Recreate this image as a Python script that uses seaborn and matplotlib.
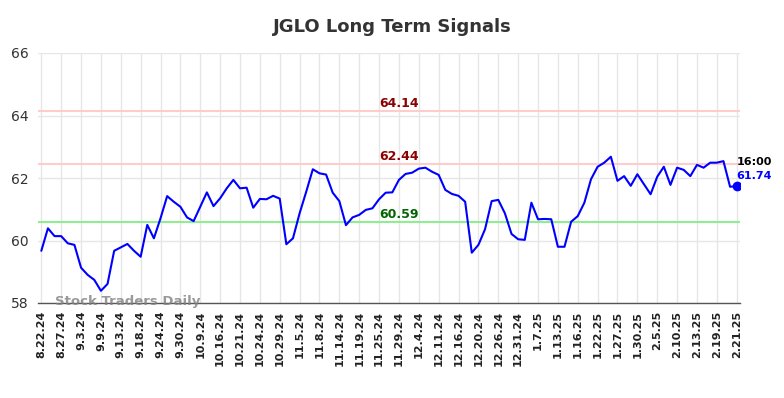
import numpy as np
import pandas as pd
import seaborn as sns
import matplotlib
matplotlib.use('Agg')
import matplotlib.pyplot as plt

# tick labels (one every 3 points)
tick_labels = ['8.22.24', '8.27.24', '9.3.24', '9.9.24', '9.13.24', '9.18.24', '9.24.24',
               '9.30.24', '10.9.24', '10.16.24', '10.21.24', '10.24.24', '10.29.24',
               '11.5.24', '11.8.24', '11.14.24', '11.19.24', '11.25.24', '11.29.24',
               '12.4.24', '12.11.24', '12.16.24', '12.20.24', '12.26.24', '12.31.24',
               '1.7.25', '1.13.25', '1.16.25', '1.22.25', '1.27.25', '1.30.25',
               '2.5.25', '2.10.25', '2.13.25', '2.19.25', '2.21.25']

# closing prices
prices = [59.67, 60.39, 60.14, 60.14, 59.91, 59.86, 59.13, 58.90, 58.74, 58.39,
          58.61, 59.67, 59.78, 59.89, 59.67, 59.48, 60.50, 60.07, 60.71, 61.42,
          61.24, 61.08, 60.74, 60.62, 61.08, 61.54, 61.10, 61.35, 61.67, 61.94,
          61.67, 61.69, 61.05, 61.33, 61.32, 61.43, 61.34, 59.88, 60.07, 60.87,
          61.56, 62.28, 62.15, 62.11, 61.53, 61.26, 60.49, 60.74, 60.82, 60.98,
          61.03, 61.32, 61.53, 61.54, 61.94, 62.13, 62.17, 62.30, 62.33, 62.20,
          62.10, 61.62, 61.49, 61.43, 61.24, 59.61, 59.86, 60.36, 61.26, 61.30,
          60.87, 60.21, 60.04, 60.02, 61.21, 60.68, 60.69, 60.68, 59.80, 59.80,
          60.60, 60.78, 61.21, 61.96, 62.36, 62.49, 62.68, 61.91, 62.06, 61.75,
          62.12, 61.80, 61.48, 62.04, 62.36, 61.78, 62.33, 62.26, 62.06, 62.42,
          62.33, 62.49, 62.49, 62.54, 61.72, 61.74]

# signal levels
resistance = [64.14, 62.44]
support = [60.59]

df = pd.DataFrame({'idx': np.arange(len(prices)), 'price': prices})

sns.set_style('whitegrid')
fig = plt.figure(figsize=(7.84, 3.98), dpi=100)
ax = fig.add_axes([38 / 784, 1 - 303 / 398, (740 - 38) / 784, 250 / 398])

sns.lineplot(data=df, x='idx', y='price', color='blue', linewidth=1.5, ax=ax)

label_x = 54
for lvl in resistance:
    ax.axhline(lvl, color='#ffcccc', linewidth=1.5, zorder=1)
    ax.text(label_x, lvl + 0.04, f'{lvl:.2f}', color='darkred', fontsize=9,
            fontweight='bold', ha='center', va='bottom')
for lvl in support:
    ax.axhline(lvl, color='#90ee90', linewidth=1.5, zorder=1)
    ax.text(label_x, lvl + 0.04, f'{lvl:.2f}', color='darkgreen', fontsize=9,
            fontweight='bold', ha='center', va='bottom')

last = len(prices) - 1
ax.plot(last, prices[-1], 'o', color='blue', markersize=6)
ax.text(last, prices[-1] + 0.77, '16:00', color='black', fontsize=8,
        fontweight='bold', va='center', ha='left')
ax.text(last, prices[-1] + 0.32, f'{prices[-1]:.2f}', color='blue', fontsize=8,
        fontweight='bold', va='center', ha='left')

ax.text(2, 58.05, 'Stock Traders Daily', color='gray', alpha=0.8, fontsize=9.5,
        fontweight='bold', va='center', ha='left')

ax.set_xlim(-0.5, last + 0.5)
ax.set_ylim(58, 66)
ax.set_yticks([58, 60, 62, 64, 66])
ax.set_xticks(np.arange(0, len(prices), 3))
ax.set_xticklabels(tick_labels, rotation=90, fontsize=8, fontweight='bold')
ax.tick_params(axis='y', labelsize=10, colors='#333333')
ax.tick_params(axis='x', colors='#222222', pad=2)
ax.set_xlabel('')
ax.set_ylabel('')
ax.grid(color='#e6e6e6', linewidth=1)
for side in ['left', 'right', 'top']:
    ax.spines[side].set_visible(False)
ax.spines['bottom'].set_color('#555555')
ax.spines['bottom'].set_linewidth(1)

fig.suptitle('JGLO Long Term Signals', fontsize=13, fontweight='bold', color='#333333',
             y=0.955)

fig.savefig('out.png', dpi=100)
